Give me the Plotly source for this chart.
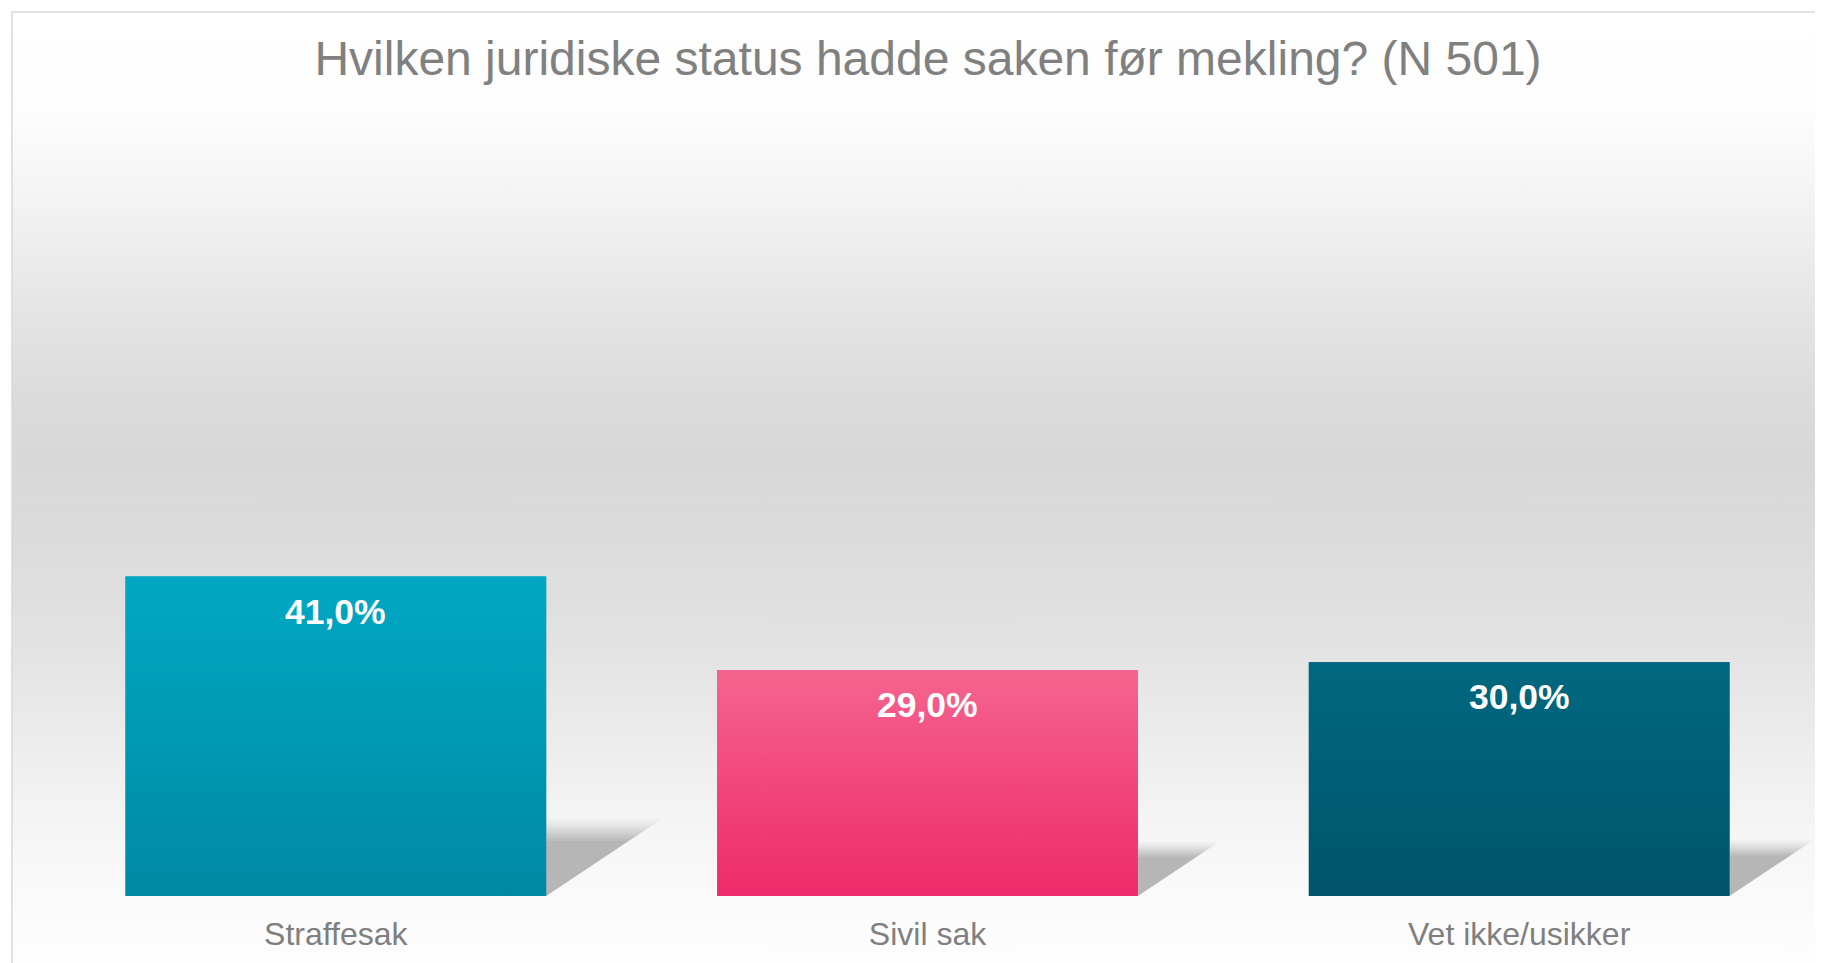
import base64
import plotly.graph_objects as go

# ---- data ----
categories = ["Straffesak", "Sivil sak", "Vet ikke/usikker"]
values = [41.0, 29.0, 30.0]
bar_colors = ["#0098B3", "#F2467D", "#005E75"]
bar_top_colors = ["#00A8C4", "#F5648F", "#006880"]
bar_bottom_colors = ["#0089A3", "#EE2A6B", "#00546B"]
title_text = "Hvilken juridiske status hadde saken før mekling? (N 501)"

W, H = 1823, 963
OFF = 8  # page body margin
L, R, T = 40 - OFF, 16, 117 - OFF
B = H - (896.4 - OFF)
plot_w = W - L - R
plot_h = H - T - B
x_range = [-0.5, 2.5]
y_range = [0, 100]
px_per_x = plot_w / (x_range[1] - x_range[0])
px_per_y = plot_h / (y_range[1] - y_range[0])
bar_width = 0.711
FONT = "Liberation Sans, Arial"

def px_to_paper_x(px):
    return (px - OFF - L) / plot_w

def px_to_paper_y(py):
    return (H - B - (py - OFF)) / plot_h

fig = go.Figure()

xs = list(range(len(categories)))

# soft shadows (derived from the values)
layers = [(1.12, 0.03), (1.08, 0.04), (1.04, 0.05), (1.0, 0.06), (0.96, 0.07),
          (0.92, 0.075), (0.88, 0.08), (0.84, 0.085), (0.80, 0.09)]
for i, v in enumerate(values):
    xr = xs[i] + bar_width / 2
    h = 0.215 * v
    dx = 1.5 * h * px_per_y / px_per_x
    for s, a in layers:
        fig.add_trace(go.Scatter(
            x=[xr, xr, xr + dx * s, xr],
            y=[0, h * s, h * s, 0],
            mode="lines", fill="toself", line=dict(width=0),
            fillcolor=f"rgba(110,110,110,{a})",
            hoverinfo="skip", showlegend=False))

fig.add_trace(go.Bar(
    x=xs, y=values, width=bar_width,
    marker=dict(color=bar_colors, line=dict(width=0)),
    hoverinfo="x+y", showlegend=False))

# vertical colour gradient laid exactly over each bar
for i, v in enumerate(values):
    x0, x1 = xs[i] - bar_width / 2, xs[i] + bar_width / 2
    fig.add_trace(go.Scatter(
        x=[x0, x1, x1, x0, x0], y=[0, 0, v, v, 0],
        mode="lines", fill="toself", line=dict(width=0),
        fillcolor=bar_colors[i],
        fillgradient=dict(type="vertical", start=v, stop=0,
                          colorscale=[[0, bar_top_colors[i]], [1, bar_bottom_colors[i]]]),
        hoverinfo="skip", showlegend=False))

for i, v in enumerate(values):
    fig.add_annotation(
        x=xs[i], y=v, xref="x", yref="y",
        text=f"{v:.1f}".replace(".", ",") + "%",
        showarrow=False, yanchor="middle", yshift=-35,
        font=dict(family=FONT, size=35.5, color="white", weight="bold"))

# background gradient of the chart area
stops = [(0, "#FFFFFF"), (0.10, "#FDFDFD"), (0.193, "#F3F3F3"), (0.296, "#E6E6E6"),
         (0.398, "#DBDBDB"), (0.46, "#D8D8D8"), (0.521, "#DADADA"), (0.645, "#E2E2E2"),
         (0.768, "#EEEEEE"), (0.85, "#F6F6F6"), (0.912, "#FAFAFA"), (1.0, "#FFFFFF")]
stop_xml = "".join(f'<stop offset="{o}" stop-color="{c}"/>' for o, c in stops)
svg = ('<svg xmlns="http://www.w3.org/2000/svg" width="100" height="100" viewBox="0 0 100 100" '
       'preserveAspectRatio="none"><defs><linearGradient id="g" x1="0" y1="0" x2="0" y2="1">'
       + stop_xml + '</linearGradient></defs><rect x="0" y="0" width="100" height="100" fill="url(#g)"/></svg>')
uri = "data:image/svg+xml;base64," + base64.b64encode(svg.encode()).decode()

x0p, x1p = px_to_paper_x(12), px_to_paper_x(1844)
y0p, y1p = px_to_paper_y(12), px_to_paper_y(986)
fig.add_layout_image(dict(
    source=uri, xref="paper", yref="paper", x=x0p, y=y0p,
    sizex=x1p - x0p, sizey=y0p - y1p, xanchor="left", yanchor="top",
    sizing="stretch", layer="below"))

fig.add_shape(type="rect", xref="paper", yref="paper",
              x0=x0p, x1=x1p, y0=y1p, y1=y0p,
              line=dict(color="#D9D9D9", width=1.5), fillcolor="rgba(0,0,0,0)", layer="above")

fig.update_layout(
    width=W, height=H,
    margin=dict(l=L, r=R, t=T, b=B, pad=0),
    paper_bgcolor="white", plot_bgcolor="rgba(0,0,0,0)",
    title=dict(text=title_text, x=(928 - OFF) / W, xanchor="center",
               y=1 - (58 - OFF) / H, yanchor="middle",
               xref="container", yref="container",
               font=dict(family=FONT, size=48, color="#808080")),
    xaxis=dict(range=x_range, tickvals=xs, ticktext=categories, showgrid=False, zeroline=False,
               showline=False, ticks="", fixedrange=True, ticklabelstandoff=16,
               tickfont=dict(family=FONT, size=32, color="#7F7F7F")),
    yaxis=dict(range=y_range, visible=False, fixedrange=True),
    bargap=0.289,
    showlegend=False,
)

fig.write_html("out.html")
